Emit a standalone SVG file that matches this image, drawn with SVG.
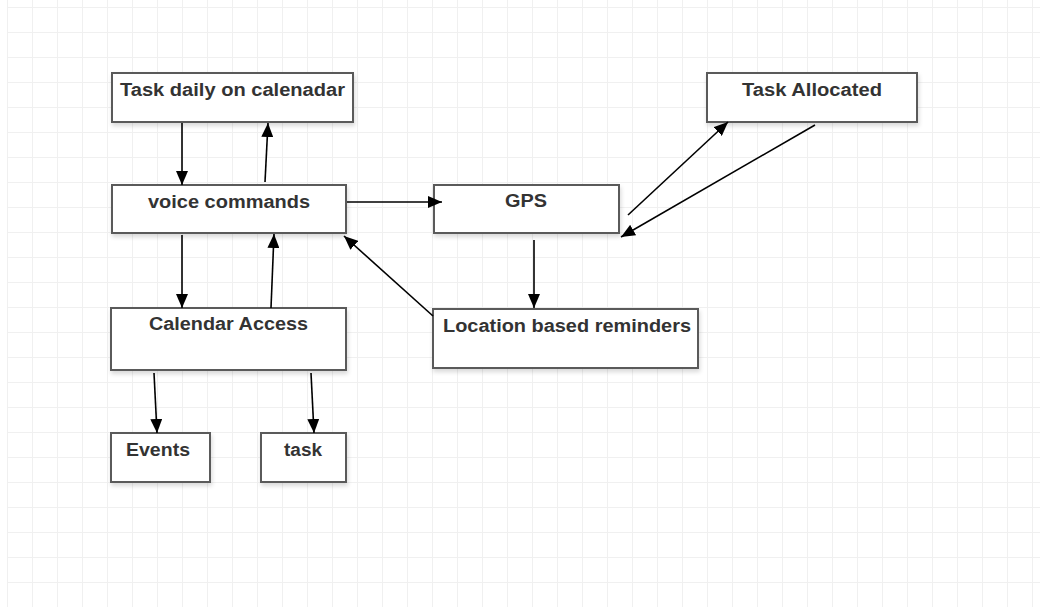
<svg xmlns="http://www.w3.org/2000/svg" width="1040" height="607" viewBox="0 0 1040 607">
<defs>
<pattern id="grid" x="7" y="7" width="25" height="25" patternUnits="userSpaceOnUse">
<path d="M0,0.5 H25 M0.5,0 V25" fill="none" stroke="#f0f0f0" stroke-width="1"/>
</pattern>
<marker id="arr" markerWidth="14" markerHeight="12" refX="14" refY="6" orient="auto" markerUnits="userSpaceOnUse">
<path d="M0,0 L14,6 L0,12 z" fill="#000"/>
</marker>
<filter id="sh" x="-5%" y="-10%" width="115%" height="140%">
<feDropShadow dx="1" dy="3" stdDeviation="2" flood-color="#000" flood-opacity="0.15"/>
</filter>
</defs>
<style>
.box{fill:#fff;stroke:#5a5a5a;stroke-width:2;filter:url(#sh)}
.lbl{font-family:"Liberation Sans",Arial,sans-serif;font-weight:bold;font-size:18px;fill:#333;text-anchor:middle}
.con{stroke:#000;stroke-width:1.6;fill:none;marker-end:url(#arr)}
</style>
<rect width="1040" height="607" fill="#fff"/>
<rect x="7" y="0" width="1033" height="607" fill="url(#grid)"/>

<g id="task-daily">
<rect class="box" x="112" y="73" width="241" height="49"/>
<text class="lbl" x="232.5" y="96" textLength="225" lengthAdjust="spacingAndGlyphs">Task daily on calenadar</text>
</g>
<g id="voice-commands">
<rect class="box" x="112" y="185" width="234" height="48"/>
<text class="lbl" x="229" y="208" textLength="162" lengthAdjust="spacingAndGlyphs">voice commands</text>
</g>
<g id="gps">
<rect class="box" x="434" y="185" width="185" height="48"/>
<text class="lbl" x="526" y="207" textLength="42" lengthAdjust="spacingAndGlyphs">GPS</text>
</g>
<g id="task-allocated">
<rect class="box" x="707" y="73" width="210" height="49"/>
<text class="lbl" x="812" y="96" textLength="140" lengthAdjust="spacingAndGlyphs">Task Allocated</text>
</g>
<g id="calendar-access">
<rect class="box" x="111" y="308" width="235" height="62"/>
<text class="lbl" x="228.5" y="330" textLength="159" lengthAdjust="spacingAndGlyphs">Calendar Access</text>
</g>
<g id="location-reminders">
<rect class="box" x="433" y="309" width="265" height="59"/>
<text class="lbl" x="567" y="332" textLength="248" lengthAdjust="spacingAndGlyphs">Location based reminders</text>
</g>
<g id="events">
<rect class="box" x="111" y="433" width="99" height="49"/>
<text class="lbl" x="158" y="456" textLength="64" lengthAdjust="spacingAndGlyphs">Events</text>
</g>
<g id="task">
<rect class="box" x="261" y="433" width="85" height="49"/>
<text class="lbl" x="303" y="456" textLength="38" lengthAdjust="spacingAndGlyphs">task</text>
</g>

<g id="connectors">
<line class="con" x1="182" y1="123" x2="182" y2="185"/>
<line class="con" x1="265" y1="182" x2="268" y2="123"/>
<line class="con" x1="347" y1="202" x2="442" y2="202"/>
<line class="con" x1="628" y1="215" x2="728" y2="122"/>
<line class="con" x1="815" y1="125" x2="621" y2="237"/>
<line class="con" x1="534" y1="240" x2="534" y2="308"/>
<line class="con" x1="182" y1="235" x2="182" y2="308"/>
<line class="con" x1="271" y1="308" x2="274" y2="234"/>
<line class="con" x1="433" y1="316" x2="344" y2="236"/>
<line class="con" x1="154" y1="373" x2="157" y2="433"/>
<line class="con" x1="311" y1="373" x2="314" y2="433"/>
</g>
</svg>
